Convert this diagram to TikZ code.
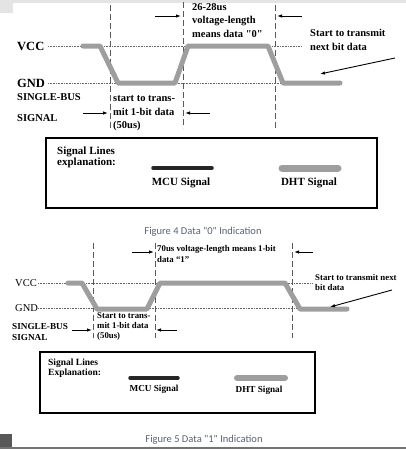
\documentclass[tikz,border=0pt]{standalone}
\usepackage{fontspec}
\newfontfamily\dsfont{Liberation Serif}
\newfontfamily\capfont{Carlito}
\usetikzlibrary{arrows.meta}
\definecolor{dhtgray}{RGB}{158,158,158}
\definecolor{capblue}{RGB}{88,98,112}
\definecolor{scangray}{RGB}{228,228,228}

\begin{document}
\begin{tikzpicture}[x=1pt, y=-1pt,
  txt/.style={font=\dsfont\bfseries\fontsize{10.5}{13.5}\selectfont, align=left, inner sep=0pt, anchor=west},
  txts/.style={font=\dsfont\bfseries\fontsize{8.8}{10.5}\selectfont, align=left, inner sep=0pt, anchor=west},
  level/.style={densely dotted, black!60, line width=0.6pt},
  guide/.style={dash pattern=on 6pt off 3pt, black!65, line width=0.6pt},
  dht/.style={dhtgray, line width=5pt, line cap=round, line join=round},
  mcu/.style={black!85, line width=3.5pt, line cap=round},
  dim/.style={-{Latex[length=5pt,width=3.5pt]}, line width=0.9pt},
  legend/.style={draw, line width=1.2pt},
  caption/.style={font=\capfont\fontsize{10.5}{12}\selectfont, text=capblue, inner sep=0pt}
]
\useasboundingbox (0,0) rectangle (406,450);
% scan edges
\fill[scangray] (0,0) rectangle (406,3);
\fill[scangray] (0,0) rectangle (13,13);
\fill[black!65] (0,434) rectangle (12,448);
\draw[black!55, line width=1.5pt] (0,448) -- (406,448);

% ---------- Figure 4: data "0" ----------
\draw[level] (48,46) -- (302,46);
\draw[level] (48,83) -- (300,83);
\draw[guide] (110,5) -- (110,128);
\draw[guide] (183,2) -- (183,128);
\draw[guide] (275,5) -- (275,128);
\draw[dht] (83,46) -- (100,46) -- (118,83) -- (175,83) -- (188,46)
  -- (268,46) -- (283,83) -- (340,83);

\node[txt, font=\dsfont\bfseries\fontsize{12.5}{14}\selectfont] (vcca) at (17,46) {VCC};
\node[txt, font=\dsfont\bfseries\fontsize{12.5}{14}\selectfont] (gnda) at (17,83) {GND};
\node[txt] (lena) at (192,20.5) {26-28us\\voltage-length\\means data "0"};
\node[txt] (nexta) at (310,40) {Start to transmit\\next bit data};
\node[txt] (busa) at (17,107.5) {SINGLE-BUS\\[7pt]SIGNAL};
\node[txt] (starta) at (113,113.5) {start to trans-\\mit 1-bit data\\(50us)};

\coordinate (a1) at (155,16);  \coordinate (a2) at (181,16);
\coordinate (a3) at (302,16);  \coordinate (a4) at (277,16);
\coordinate (a5) at (83,113);  \coordinate (a6) at (108,113);
\coordinate (a7) at (210,113); \coordinate (a8) at (185,113);
\coordinate (a9) at (395,58);  \coordinate (a10) at (320,74);

% Arrows
\draw[dim] (a1) -- (a2);
\draw[dim] (a3) -- (a4);
\draw[dim] (a5) -- (a6);
\draw[dim] (a7) -- (a8);
\draw[dim] (a9) -- (a10);

% legend
\draw[legend] (46,138) rectangle (377,208);
\node[txt, font=\dsfont\bfseries\fontsize{11}{11}\selectfont] (keya) at (57,157.5) {Signal Lines\\explanation:};
\draw[mcu] (153,168) -- (212,168);
\draw[dht, line width=7pt] (282,168) -- (338,168);
\node[txt, anchor=center, font=\dsfont\bfseries\fontsize{11}{13}\selectfont] (mcua) at (181,183) {MCU Signal};
\node[txt, anchor=center, font=\dsfont\bfseries\fontsize{11}{13}\selectfont] (dhta) at (309,183) {DHT Signal};

\node[caption] (capa) at (203,232) {Figure 4 Data "0" Indication};

% ---------- Figure 5: data "1" ----------
\draw[level] (38,283) -- (313,283);
\draw[level] (38,308) -- (320,308);
\draw[guide] (93,243) -- (93,338);
\draw[guide] (155,243) -- (155,338);
\draw[guide] (292,243) -- (292,338);
\draw[dht] (68,283) -- (82,283) -- (97,309) -- (147,309) -- (160,283)
  -- (285,283) -- (300,309) -- (347,309);

\node[txt, font=\dsfont\fontsize{10.5}{12}\selectfont] (vccb) at (15,283) {VCC};
\node[txt, font=\dsfont\fontsize{10.5}{12}\selectfont] (gndb) at (15,308) {GND};
\node[txts] (lenb) at (157,254) {70us voltage-length means 1-bit\\data “1”};
\node[txts] (nextb) at (315,282.5) {Start to transmit next\\bit data};
\node[txts, font=\dsfont\bfseries\fontsize{9.2}{11}\selectfont] (busb) at (12,331.5) {SINGLE-BUS\\SIGNAL};
\node[txts, font=\dsfont\bfseries\fontsize{8.8}{10}\selectfont] (startb) at (97,327) {Start to trans-\\mit 1-bit data\\(50us)};

\coordinate (b1) at (132,252); \coordinate (b2) at (154,252);
\coordinate (b3) at (313,252); \coordinate (b4) at (294,252);
\coordinate (b5) at (72,330);  \coordinate (b6) at (92,330);
\coordinate (b7) at (177,330); \coordinate (b8) at (156,330);
\coordinate (b9) at (392,290); \coordinate (b10) at (330,307);

% Arrows
\draw[dim] (b1) -- (b2);
\draw[dim] (b3) -- (b4);
\draw[dim] (b5) -- (b6);
\draw[dim] (b7) -- (b8);
\draw[dim] (b9) -- (b10);

% legend
\draw[legend] (40,352) rectangle (315,413);
\node[txts, font=\dsfont\bfseries\fontsize{9.5}{10}\selectfont] (keyb) at (48,368) {Signal Lines\\Explanation:};
\draw[mcu] (130,378) -- (178,378);
\draw[dht, line width=6pt] (237,378) -- (285,378);
\node[txts, anchor=center, font=\dsfont\bfseries\fontsize{9.2}{11}\selectfont] (mcub) at (154,389) {MCU Signal};
\node[txts, anchor=center, font=\dsfont\bfseries\fontsize{9.2}{11}\selectfont] (dhtb) at (259,390) {DHT Signal};

\node[caption] (capb) at (204,440) {Figure 5 Data "1" Indication};
\end{tikzpicture}
\end{document}
